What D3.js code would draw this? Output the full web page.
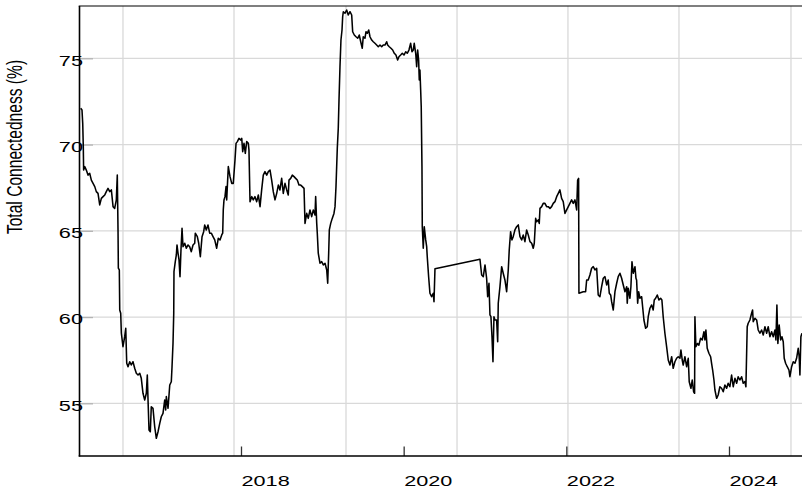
<!DOCTYPE html>
<html>
<head>
<meta charset="utf-8">
<script src="https://cdn.jsdelivr.net/npm/d3@7"></script>
<style>
  html, body { margin: 0; padding: 0; background: #fff; }
  svg { display: block; }
  text { font-family: "Liberation Sans", Arial, Helvetica, sans-serif; fill: #000; }
</style>
</head>
<body>
<svg id="chart" width="802" height="489"></svg>
<script>
// Total connectedness index, sampled as decimal years
const years = [
  2016.029,2016.045,2016.054,2016.061,2016.065,2016.079,2016.098,2016.119,2016.140,2016.160,
  2016.181,2016.202,2016.221,2016.242,2016.263,2016.283,2016.304,2016.325,2016.344,2016.365,
  2016.386,2016.406,2016.427,2016.447,2016.467,2016.479,2016.488,2016.492,2016.504,2016.509,
  2016.521,2016.529,2016.549,2016.570,2016.583,2016.595,2016.611,2016.632,2016.651,2016.672,
  2016.693,2016.713,2016.734,2016.755,2016.774,2016.795,2016.816,2016.836,2016.848,2016.857,
  2016.869,2016.885,2016.897,2016.918,2016.939,2016.959,2016.980,2017.001,2017.020,2017.041,
  2017.062,2017.074,2017.082,2017.103,2017.124,2017.143,2017.152,2017.164,2017.173,2017.176,
  2017.192,2017.205,2017.213,2017.226,2017.238,2017.250,2017.262,2017.275,2017.287,2017.308,
  2017.328,2017.349,2017.369,2017.389,2017.410,2017.431,2017.438,2017.463,2017.480,2017.500,
  2017.521,2017.541,2017.554,2017.573,2017.594,2017.615,2017.635,2017.656,2017.677,2017.701,
  2017.721,2017.742,2017.763,2017.775,2017.782,2017.791,2017.803,2017.816,2017.824,2017.844,
  2017.865,2017.886,2017.905,2017.926,2017.939,2017.955,2017.975,2017.996,2018.009,2018.021,
  2018.037,2018.053,2018.070,2018.090,2018.098,2018.111,2018.132,2018.151,2018.172,2018.193,
  2018.213,2018.234,2018.254,2018.274,2018.295,2018.316,2018.336,2018.357,2018.377,2018.397,
  2018.418,2018.439,2018.459,2018.479,2018.500,2018.520,2018.541,2018.562,2018.581,2018.590,
  2018.611,2018.631,2018.652,2018.672,2018.692,2018.713,2018.734,2018.754,2018.775,2018.787,
  2018.808,2018.827,2018.848,2018.869,2018.889,2018.910,2018.918,2018.931,2018.938,2018.950,
  2018.971,2018.992,2019.012,2019.033,2019.054,2019.066,2019.078,2019.086,2019.103,2019.122,
  2019.143,2019.156,2019.168,2019.184,2019.196,2019.205,2019.217,2019.229,2019.242,2019.250,
  2019.258,2019.279,2019.299,2019.319,2019.340,2019.361,2019.373,2019.393,2019.414,2019.435,
  2019.454,2019.472,2019.491,2019.503,2019.524,2019.537,2019.553,2019.570,2019.586,2019.607,
  2019.626,2019.647,2019.668,2019.688,2019.709,2019.730,2019.749,2019.770,2019.791,2019.803,
  2019.823,2019.844,2019.865,2019.885,2019.905,2019.926,2019.942,2019.963,2019.983,2020.004,
  2020.025,2020.044,2020.065,2020.086,2020.102,2020.118,2020.130,2020.148,2020.160,2020.172,
  2020.184,2020.192,2020.200,2020.209,2020.216,2020.225,2020.229,2020.241,2020.253,2020.271,
  2020.283,2020.290,2020.307,2020.323,2020.344,2020.364,2020.373,2020.385,2020.938,2020.959,
  2020.979,2021.000,2021.020,2021.033,2021.049,2021.061,2021.073,2021.086,2021.098,2021.110,
  2021.122,2021.143,2021.156,2021.163,2021.184,2021.205,2021.224,2021.245,2021.266,2021.286,
  2021.298,2021.315,2021.331,2021.347,2021.368,2021.389,2021.409,2021.430,2021.451,2021.470,
  2021.491,2021.512,2021.532,2021.553,2021.574,2021.593,2021.606,2021.623,2021.635,2021.655,
  2021.667,2021.676,2021.697,2021.716,2021.737,2021.758,2021.778,2021.799,2021.819,2021.839,
  2021.860,2021.881,2021.901,2021.921,2021.942,2021.962,2021.983,2022.004,2022.024,2022.044,
  2022.065,2022.085,2022.106,2022.127,2022.139,2022.151,2022.155,2022.208,2022.237,2022.250,
  2022.269,2022.290,2022.311,2022.331,2022.352,2022.373,2022.392,2022.413,2022.434,2022.454,
  2022.475,2022.496,2022.515,2022.528,2022.545,2022.557,2022.577,2022.598,2022.619,2022.638,
  2022.659,2022.680,2022.700,2022.721,2022.742,2022.749,2022.761,2022.782,2022.794,2022.807,
  2022.823,2022.844,2022.856,2022.864,2022.877,2022.889,2022.905,2022.926,2022.938,2022.954,
  2022.975,2022.995,2023.007,2023.028,2023.049,2023.068,2023.081,2023.098,2023.118,2023.139,
  2023.159,2023.175,2023.191,2023.212,2023.233,2023.253,2023.274,2023.295,2023.314,2023.335,
  2023.356,2023.376,2023.397,2023.409,2023.425,2023.437,2023.458,2023.479,2023.499,2023.511,
  2023.532,2023.548,2023.565,2023.577,2023.581,2023.593,2023.614,2023.630,2023.651,2023.671,
  2023.692,2023.704,2023.716,2023.732,2023.753,2023.774,2023.786,2023.799,2023.815,2023.827,
  2023.848,2023.867,2023.888,2023.909,2023.929,2023.950,2023.971,2023.990,2024.011,2024.032,
  2024.052,2024.073,2024.094,2024.113,2024.134,2024.155,2024.175,2024.196,2024.208,2024.224,
  2024.236,2024.257,2024.278,2024.290,2024.298,2024.319,2024.340,2024.359,2024.380,2024.401,
  2024.421,2024.442,2024.463,2024.482,2024.503,2024.524,2024.544,2024.565,2024.577,2024.589,
  2024.601,2024.617,2024.635,2024.651,2024.667,2024.679,2024.696,2024.716,2024.737,2024.749,
  2024.770,2024.790,2024.811,2024.831,2024.851,2024.863,2024.872,2024.884,2024.897
];

const tci = [
  72.10,72.00,71.23,69.88,68.52,68.72,68.52,68.23,68.33,67.94,
  67.75,67.56,67.27,67.17,66.50,66.88,66.98,67.08,67.27,67.46,
  67.27,67.37,66.40,66.30,66.79,68.23,65.03,62.83,62.73,60.41,
  60.22,59.06,58.28,58.86,59.35,57.32,57.12,57.41,57.22,57.41,
  57.03,56.74,56.64,56.74,56.45,55.58,55.19,55.58,56.64,55.19,
  53.45,53.35,54.80,54.71,53.64,52.97,53.35,53.84,54.22,54.42,
  55.19,54.61,55.39,54.71,56.06,56.25,57.12,58.47,60.21,62.63,
  63.21,63.60,64.18,63.70,63.31,62.34,63.89,65.14,64.08,64.28,
  63.99,64.18,64.08,63.79,64.18,64.28,64.86,64.66,64.28,63.50,
  64.66,64.95,65.34,65.05,65.34,64.86,64.86,64.66,64.47,63.99,
  64.57,64.47,64.76,64.86,66.21,66.79,66.98,67.56,66.79,68.72,
  68.14,67.75,67.75,69.10,70.07,70.17,70.36,70.26,70.36,69.59,
  70.07,69.49,70.17,70.07,69.68,66.69,66.98,66.79,66.98,66.69,
  67.08,66.40,67.37,68.23,68.43,68.23,68.43,68.52,67.94,67.27,
  66.79,67.17,67.65,67.37,68.04,67.17,67.75,67.37,67.08,67.94,
  68.04,68.23,68.14,68.04,67.94,67.65,67.65,67.56,67.46,65.43,
  66.01,65.72,66.21,65.82,66.21,65.92,66.98,65.43,64.86,63.70,
  63.12,63.21,63.02,63.12,62.73,61.96,63.70,65.05,65.43,65.72,
  66.01,66.40,67.56,69.78,70.94,72.58,74.51,76.06,76.64,77.41,
  77.70,77.61,77.80,77.51,77.70,77.51,76.54,76.35,76.25,76.16,
  76.35,75.96,75.58,76.25,76.16,76.54,76.45,76.64,76.25,76.06,
  75.96,75.87,75.77,75.67,75.77,75.67,75.77,75.77,75.96,75.77,
  75.67,75.58,75.48,75.29,75.19,74.90,75.09,75.19,75.29,75.19,
  75.38,75.29,75.48,75.87,75.38,75.48,75.87,75.29,74.51,75.48,
  74.90,73.74,74.32,73.16,72.19,68.72,65.24,63.99,65.24,64.47,
  64.08,63.50,62.34,61.38,61.18,61.38,60.89,62.80,63.35,62.44,
  62.34,63.02,62.25,61.18,61.96,60.12,60.02,58.86,57.41,60.02,
  59.83,59.83,58.57,60.80,61.76,62.92,62.54,62.15,61.47,62.73,
  63.89,64.95,64.47,64.66,65.05,65.24,65.34,64.66,64.47,64.76,
  64.37,65.05,64.76,64.37,64.28,63.99,64.28,65.72,65.53,65.63,
  65.43,66.30,66.40,66.59,66.59,66.40,66.40,66.30,66.40,66.59,
  66.69,66.98,67.17,67.37,66.88,66.69,66.01,66.21,66.40,66.59,
  66.79,66.59,66.79,66.21,67.94,68.04,61.38,61.47,61.47,62.15,
  62.15,62.44,62.83,62.92,62.73,62.83,61.28,61.18,61.76,62.25,
  62.34,61.86,62.15,61.38,61.28,60.89,60.41,61.47,61.96,62.34,
  62.54,62.25,61.86,61.47,61.76,60.80,61.67,61.09,61.76,63.21,
  62.54,62.92,62.25,62.15,60.80,61.47,61.09,61.18,60.60,59.83,
  59.35,59.44,60.02,60.51,60.70,60.41,60.99,61.09,61.28,60.99,
  61.09,60.99,60.02,59.06,58.28,57.51,57.22,57.70,57.03,57.41,
  57.61,57.70,57.61,58.09,57.51,57.22,57.70,57.12,57.61,56.25,
  55.87,56.35,55.67,55.58,60.02,58.28,58.47,58.37,58.77,58.67,
  59.15,58.67,59.25,58.19,57.90,57.70,57.32,56.93,56.35,55.77,
  55.29,55.48,55.96,55.87,55.67,56.06,55.87,56.16,55.96,56.64,
  55.96,56.45,56.16,56.54,56.35,56.54,56.16,56.26,55.96,59.44,
  59.64,59.83,60.22,60.41,59.73,59.93,59.83,59.25,59.06,59.25,
  58.96,59.44,59.06,59.44,58.86,59.15,58.86,59.25,58.67,60.70,
  58.47,59.54,58.67,58.86,58.57,57.61,57.32,57.12,56.93,56.54,
  57.12,57.41,57.32,57.61,58.19,57.70,56.64,58.86,59.06
];

// Axis ticks and grid
const xTickYears = [2018, 2020, 2022, 2024];
const xTickLabels = ["2018", "2020", "2022", "2024"];
const yTicks = [55, 60, 65, 70, 75];
const gridYears = [2016.549, 2017.914, 2019.291, 2020.656, 2022.020, 2023.385, 2024.762];
const yTitle = "Total Connectedness (%)";

// Layout
const W = 802, H = 489;
const plot = { left: 80, right: 802, top: 6, bottom: 456 };
const stretch = 1.4;     // horizontal widening of the lettering
const fontSize = 15.5;

const svg = d3.select("#chart");

const x = d3.scaleLinear().domain([2016.0205, 2024.8976]).range([plot.left, plot.right]);
const y = d3.scaleLinear().domain([51.945, 78.032]).range([plot.bottom, plot.top]);

const n = Math.min(years.length, tci.length);
const series = d3.range(n).map(i => ({ t: years[i], v: tci[i] }));

// Grid
const grid = svg.append("g").attr("class", "grid")
  .attr("stroke", "#d9d9d9").attr("stroke-width", 1.3).attr("fill", "none");
grid.selectAll("line.h").data(yTicks).join("line").attr("class", "h")
  .attr("x1", plot.left).attr("x2", plot.right)
  .attr("y1", d => y(d)).attr("y2", d => y(d));
grid.selectAll("line.v").data(gridYears).join("line").attr("class", "v")
  .attr("x1", d => x(d)).attr("x2", d => x(d))
  .attr("y1", plot.top).attr("y2", plot.bottom);

// Y axis: inward gray ticks, labels to the left
const yAxis = svg.append("g").attr("transform", `translate(${plot.left},0)`)
  .call(d3.axisLeft(y).tickValues(yTicks).tickSizeInner(-13).tickSizeOuter(0).tickFormat(d3.format("d")));
yAxis.select(".domain").remove();
yAxis.selectAll(".tick line").attr("stroke", "#b3b3b3").attr("stroke-width", 1.3);
yAxis.selectAll(".tick text")
  .attr("x", null).attr("dy", null)
  .attr("text-anchor", "end")
  .attr("transform", `translate(3,6.7) scale(${stretch},1)`)
  .style("font-size", fontSize + "px")
  .style("font-family", '"Liberation Sans", Arial, sans-serif')
  .attr("fill", "#000");

// X axis: inward dark ticks, labels starting at each tick
const xAxis = svg.append("g").attr("transform", `translate(0,${plot.bottom})`)
  .call(d3.axisBottom(x).tickValues(xTickYears).tickSizeInner(-9.5).tickSizeOuter(0)
    .tickFormat((d, i) => xTickLabels[i]));
xAxis.select(".domain").remove();
xAxis.selectAll(".tick line").attr("stroke", "#333").attr("stroke-width", 1.3);
xAxis.selectAll(".tick text")
  .attr("y", null).attr("dy", null)
  .attr("text-anchor", "start")
  .attr("transform", `translate(0,30) scale(${stretch},1)`)
  .style("font-size", fontSize + "px")
  .style("font-family", '"Liberation Sans", Arial, sans-serif')
  .attr("fill", "#000");

// Series line
svg.append("defs").append("clipPath").attr("id", "plotClip")
  .append("rect").attr("x", plot.left).attr("y", plot.top)
  .attr("width", plot.right - plot.left).attr("height", plot.bottom - plot.top);

const line = d3.line().x(d => x(d.t)).y(d => y(d.v));
svg.append("path").datum(series)
  .attr("clip-path", "url(#plotClip)")
  .attr("fill", "none").attr("stroke", "#000")
  .attr("stroke-width", 1.55).attr("stroke-linejoin", "round")
  .attr("d", line);

// Frame: left, bottom and top edges
const frame = svg.append("g").attr("stroke", "#000").attr("fill", "none");
frame.append("line").attr("x1", plot.left - 0.5).attr("x2", plot.left - 0.5)
  .attr("y1", plot.top).attr("y2", plot.bottom + 0.5).attr("stroke-width", 1.6);
frame.append("line").attr("x1", plot.left - 1.3).attr("x2", plot.right)
  .attr("y1", plot.bottom).attr("y2", plot.bottom).attr("stroke-width", 1.6);
frame.append("line").attr("x1", plot.left - 1.3).attr("x2", plot.right)
  .attr("y1", plot.top).attr("y2", plot.top).attr("stroke-width", 1.2);

// Y title
svg.append("text")
  .attr("transform", `translate(22,147) scale(${stretch},1) rotate(-90)`)
  .attr("text-anchor", "middle")
  .style("font-size", "15.6px")
  .text(yTitle);
</script>
</body>
</html>
